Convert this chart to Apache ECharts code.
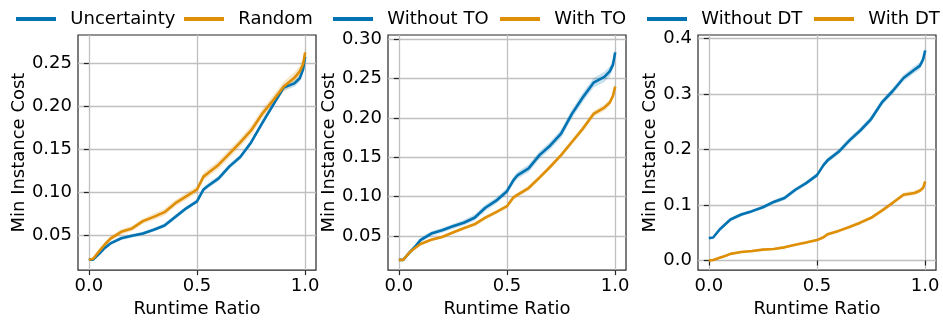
<!DOCTYPE html>
<html><head><meta charset="utf-8">
<script src="https://cdn.jsdelivr.net/npm/echarts@6/dist/echarts.min.js"></script>
<style>html,body{margin:0;padding:0;background:#fff}#c{width:943px;height:323px}</style>
</head><body><div id="c"></div>
<script>
// ---- data ----
const runtimeRatio = [0,0.02,0.05,0.075,0.1,0.15,0.2,0.25,0.3,0.35,0.4,0.45,0.5,0.53,0.55,0.6,0.65,0.7,0.75,0.8,0.85,0.9,0.95,0.975,0.99,1.0];

const uncertainty = [0.021,0.021,0.0285,0.035,0.040,0.046,0.049,0.0515,0.056,0.061,0.071,0.081,0.089,0.103,0.107,0.116,0.130,0.141,0.158,0.180,0.201,0.222,0.227,0.233,0.243,0.258];
const random      = [0.021,0.022,0.0315,0.039,0.0455,0.0535,0.0575,0.066,0.071,0.0765,0.087,0.095,0.103,0.118,0.122,0.132,0.145,0.158,0.172,0.191,0.2065,0.223,0.2335,0.241,0.249,0.263];

const withoutTO = [0.020,0.020,0.0295,0.0366,0.045,0.0533,0.0575,0.0625,0.067,0.0734,0.086,0.095,0.107,0.121,0.1275,0.136,0.1527,0.165,0.180,0.205,0.2257,0.2445,0.252,0.259,0.2675,0.283];
const withTO    = [0.020,0.020,0.0295,0.035,0.040,0.0455,0.049,0.0546,0.060,0.065,0.0734,0.0805,0.088,0.0993,0.1026,0.111,0.1243,0.138,0.1527,0.1694,0.186,0.205,0.213,0.2195,0.228,0.2395];

const withoutDT = [0.0404,0.0415,0.056,0.065,0.074,0.083,0.089,0.096,0.1056,0.1128,0.1276,0.1395,0.154,0.172,0.181,0.196,0.2166,0.2344,0.255,0.285,0.3056,0.329,0.344,0.351,0.362,0.3786];
const withDT    = [0.000,0.001,0.005,0.008,0.012,0.0154,0.017,0.0196,0.0208,0.0237,0.0285,0.0326,0.0368,0.042,0.0475,0.0534,0.0605,0.0682,0.077,0.090,0.104,0.1187,0.1217,0.1258,0.1306,0.1424];

// confidence band half-widths
const bandNarrow = [0,0.001,0.002,0.002,0.002,0.002,0.002,0.002,0.002,0.0025,0.0025,0.0025,0.0025,0.003,0.003,0.003,0.003,0.003,0.003,0.0035,0.0035,0.004,0.004,0.004,0.004,0.004];
const bandWide   = [0,0.0015,0.003,0.003,0.003,0.003,0.003,0.003,0.0035,0.004,0.004,0.004,0.004,0.0045,0.0045,0.005,0.005,0.005,0.0055,0.0055,0.006,0.006,0.0065,0.0065,0.0065,0.0065];

const xTicks = [0, 0.5, 1.0];
const yTicks1 = [0.05,0.10,0.15,0.20,0.25];
const yTicks2 = [0.05,0.10,0.15,0.20,0.25,0.30];
const yTicks3 = [0.0,0.1,0.2,0.3,0.4];

const legendNames = [['Uncertainty','Random'],['Without TO','With TO'],['Without DT','With DT']];
const xLabel = 'Runtime Ratio';
const yLabel = 'Min Instance Cost';

// ---- styling ----
const BLUE = '#0173b2', ORANGE = '#de8f05';
const FONT = 'DejaVu Sans';
const panels = [
  {left:78,  yMin:0.0088, yMax:0.2835, ticks:yTicks1, dec:2, nameGap:50, series:[uncertainty, random], bands:[bandNarrow, bandWide]},
  {left:388, yMin:0.007,  yMax:0.305,  ticks:yTicks2, dec:2, nameGap:50, series:[withoutTO, withTO], bands:[bandWide, bandNarrow]},
  {left:698, yMin:-0.0173,yMax:0.4066, ticks:yTicks3, dec:1, nameGap:39, series:[withoutDT, withDT], bands:[bandWide, bandNarrow]}
];
const legendLeft = [[16,184],[333,500],[647,814]];
const colors = [BLUE, ORANGE];

const grid=[], xAxis=[], yAxis=[], series=[], legend=[];
panels.forEach((p,i)=>{
  grid.push({left:p.left, top:35, width:238, height:238, show:true, borderColor:'#262626', borderWidth:1.2, backgroundColor:'transparent', containLabel:false});
  xAxis.push({
    type:'value', gridIndex:i, min:-0.05, max:1.05,
    name:xLabel, nameLocation:'middle', nameGap:25,
    nameTextStyle:{fontFamily:FONT, fontSize:18, color:'#000', verticalAlign:'top'},
    axisLine:{show:false},
    axisTick:{show:true, inside:false, length:5, customValues:xTicks, lineStyle:{color:'#262626', width:1.2}},
    axisLabel:{show:true, customValues:xTicks, margin:7, fontFamily:FONT, fontSize:18, color:'#000', formatter:v=>v.toFixed(1)},
    splitLine:{show:true, lineStyle:{color:'#c0c0c0', width:1.3}}
  });
  yAxis.push({
    type:'value', gridIndex:i, min:p.yMin, max:p.yMax,
    name:yLabel, nameLocation:'middle', nameGap:p.nameGap, nameRotate:90,
    nameTextStyle:{fontFamily:FONT, fontSize:18, color:'#000'},
    axisLine:{show:false},
    axisTick:{show:true, inside:false, length:5, customValues:p.ticks, lineStyle:{color:'#262626', width:1.2}},
    axisLabel:{show:true, customValues:p.ticks, margin:6, fontFamily:FONT, fontSize:18, color:'#000', formatter:v=>v.toFixed(p.dec)},
    splitLine:{show:true, lineStyle:{color:'#c0c0c0', width:1.3}}
  });
  p.series.forEach((ys,j)=>{
    const band = p.bands[j];
    const col = colors[j];
    series.push({
      type:'custom', xAxisIndex:i, yAxisIndex:i, silent:true, z:1, data:[[0,0]],
      renderItem:(params, api)=>{
        const pts=[];
        for(let k=0;k<runtimeRatio.length;k++) pts.push(api.coord([runtimeRatio[k], ys[k]+band[k]]));
        for(let k=runtimeRatio.length-1;k>=0;k--) pts.push(api.coord([runtimeRatio[k], ys[k]-band[k]]));
        return {type:'polygon', shape:{points:pts}, style:{fill:col, opacity:0.22}};
      }
    });
    series.push({
      type:'line', name:legendNames[i][j], xAxisIndex:i, yAxisIndex:i, z:3,
      data:runtimeRatio.map((x,k)=>[x,ys[k]]), showSymbol:false, symbol:'none',
      lineStyle:{color:col, width:2.6}, itemStyle:{color:col}
    });
    legend.push({
      data:[legendNames[i][j]], left:legendLeft[i][j], top:10, icon:'rect', itemWidth:40, itemHeight:4,
      selectedMode:false, padding:0, itemGap:0,
      formatter:n=>' \u2009'+n,
      textStyle:{fontFamily:FONT, fontSize:18, color:'#000'}
    });
  });
});

const chart = echarts.init(document.getElementById('c'), null, {renderer:'canvas'});
chart.setOption({animation:false, backgroundColor:'#fff', grid, xAxis, yAxis, series, legend});
</script>
</body></html>
